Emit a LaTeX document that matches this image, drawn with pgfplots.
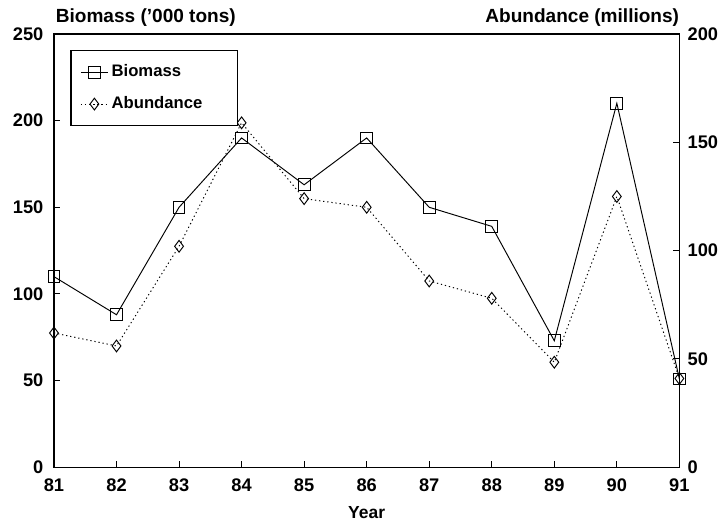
\documentclass[border=0pt]{standalone}
\usepackage{pgfplots}
\pgfplotsset{compat=1.18}
\usepackage{fontspec}
\setmainfont{Liberation Sans}
\begin{document}
\begin{tikzpicture}[font=\bfseries\fontsize{11.5}{13}\selectfont]
\pgfplotsset{every axis/.append style={scale only axis, width=394pt, height=273pt,
  xmin=81, xmax=91, tick align=inside, clip=false,
  /pgf/number format/assume math mode=true,
  tick style={black, line width=0.6pt, major tick length=4pt},
  axis line style={line width=0.8pt},
  every tick label/.append style={font=\bfseries\fontsize{11.5}{13}\selectfont}}}
\begin{axis}[ymin=0, ymax=250, ytick={0,50,...,250}, ytick pos=left,
  xtick={81,...,91}, xtick pos=bottom, xlabel={Year},
  yticklabel style={inner xsep=6.5pt}, xticklabel style={inner ysep=7pt},
  xlabel style={yshift=1pt, font=\bfseries\fontsize{11}{13}\selectfont}]
\path ([xshift=-34pt, yshift=-36.5pt]rel axis cs:0,0) rectangle ([xshift=30pt, yshift=21.4pt]rel axis cs:1,1);
\addplot[black, line width=0.6pt, mark=square, mark size=3.7pt, mark options={solid, fill=white}]
 coordinates {(81,110) (82,88) (83,150) (84,190) (85,163) (86,190) (87,150) (88,139) (89,73) (90,210) (91,51)};
\node[anchor=base west, inner sep=0pt, font=\bfseries\fontsize{12}{14}\selectfont] at ([xshift=1pt, yshift=7.5pt]rel axis cs:0,1) {Biomass ('000 tons)};
\node[anchor=base east, inner sep=0pt, font=\bfseries\fontsize{12}{14}\selectfont] at ([xshift=0pt, yshift=7.5pt]rel axis cs:1,1) {Abundance (millions)};
\end{axis}
\begin{axis}[ymin=0, ymax=200, ytick={0,50,...,200}, axis y line*=right, axis x line=none,
  yticklabel style={inner xsep=5pt},
  legend style={at={(0.026,0.963)}, anchor=north west, draw=black, line width=0.8pt,
    font=\bfseries\fontsize{10.5}{12}\selectfont, row sep=7pt, inner xsep=6pt, inner ysep=7pt},
  legend cell align=left]
\addlegendimage{black, line width=0.6pt, mark=square, mark size=3.7pt, mark options={solid, fill=white}}
\addlegendentry{Biomass}
\addplot[black, line width=0.6pt, dash pattern=on 0.8pt off 1.8pt, mark=diamond, mark size=3.7pt, mark options={solid, fill=white}]
 coordinates {(81,62) (82,56) (83,102) (84,159) (85,124) (86,120) (87,86) (88,78) (89,48.5) (90,125) (91,41)};
\addlegendentry{Abundance\hspace*{14pt}}
\end{axis}
\end{tikzpicture}
\end{document}
